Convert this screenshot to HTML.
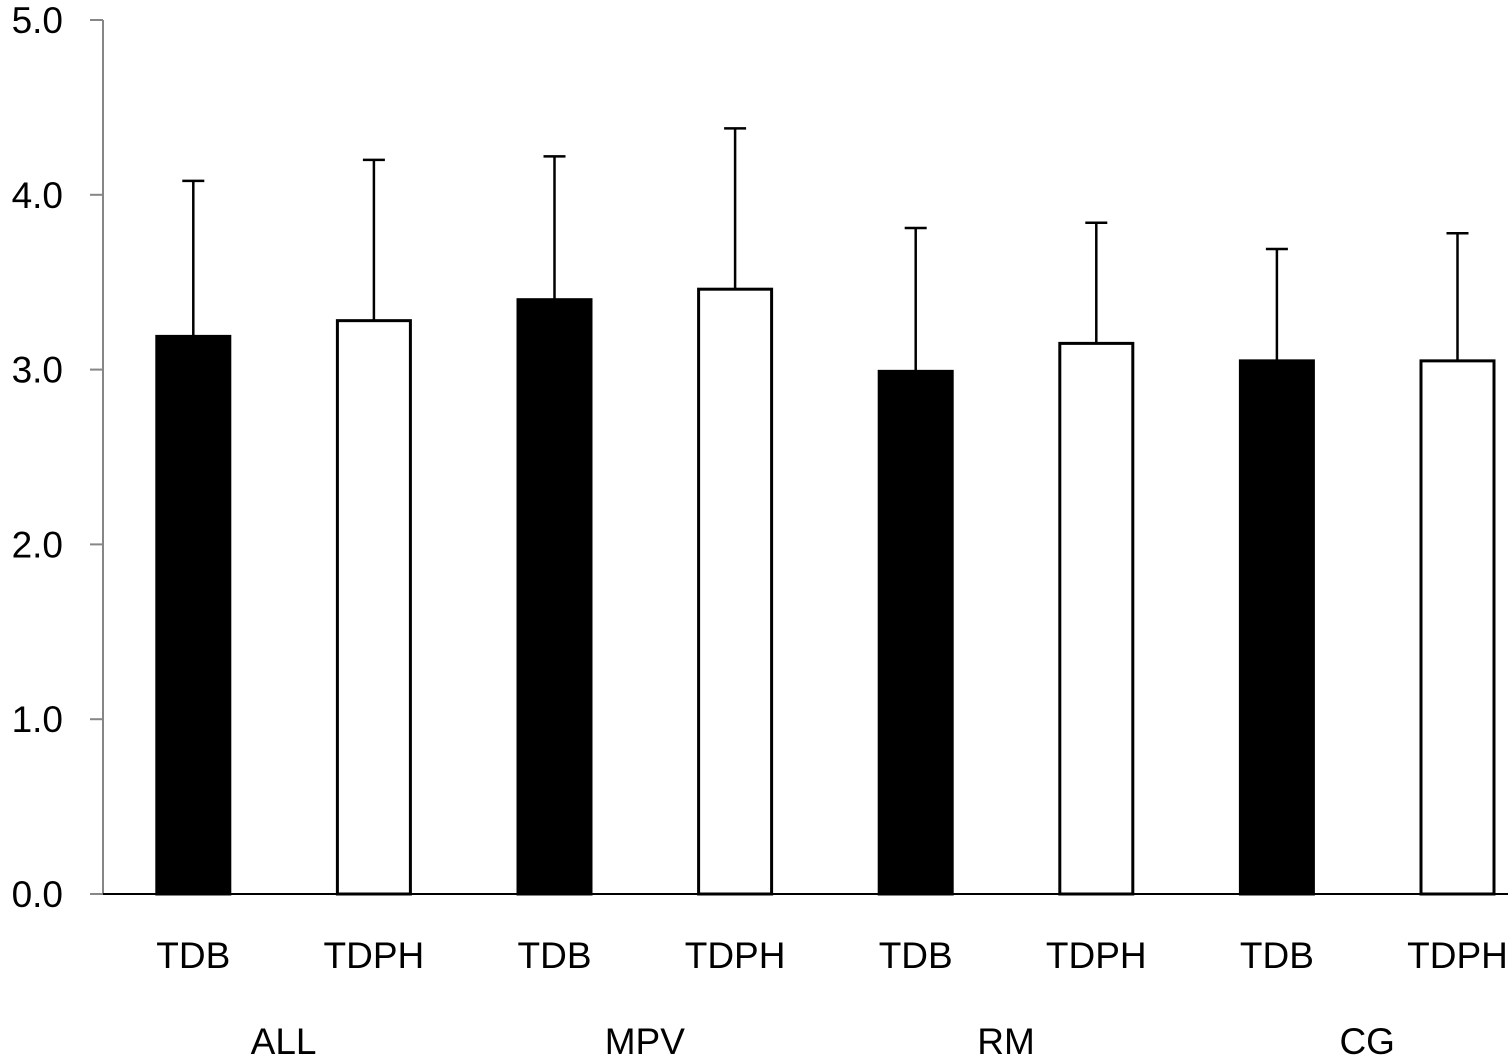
<!DOCTYPE html>
<html><head><meta charset="utf-8"><style>
html,body{margin:0;padding:0;background:#fff;width:1508px;height:1060px;overflow:hidden}
svg{display:block;font-family:"Liberation Sans",Calibri,sans-serif}
</style></head><body>
<svg id="chart" width="1508" height="1060"></svg>
<script>
const groups=["ALL","MPV","RM","CG"];
const seriesNames=["TDB","TDPH"];
const tdbValues=[3.19,3.40,2.99,3.05];
const tdphValues=[3.28,3.46,3.15,3.05];
const tdbErrors=[0.89,0.82,0.82,0.64];
const tdphErrors=[0.92,0.92,0.69,0.73];
const yTicks=[0,1,2,3,4,5];
const yTickLabels=["0.0","1.0","2.0","3.0","4.0","5.0"];

const NS="http://www.w3.org/2000/svg";
const svg=document.getElementById("chart");
const x0=103,slot=180.6,barW=73;
const yBase=894,pxPerUnit=174.8;
function yScale(v){return yBase-v*pxPerUnit;}
function xCenter(i){return x0+slot*(i+0.5);}
function mk(tag,attrs){const e=document.createElementNS(NS,tag);for(const k in attrs)e.setAttribute(k,attrs[k]);svg.appendChild(e);return e;}

let ax=mk("line",{x1:x0,y1:yScale(5),x2:x0,y2:yBase,stroke:"#868686","stroke-width":2});


yTicks.forEach((t,i)=>{
  const tk=mk("line",{x1:90,y1:yScale(t),x2:x0,y2:yScale(t),stroke:"#868686","stroke-width":2});
  
  
  const tl=mk("text",{x:63,y:yScale(t)+13,"text-anchor":"end","font-size":37,fill:"#000"});
  tl.textContent=yTickLabels[i];
  
  
});

const vals=[tdbValues,tdphValues],errs=[tdbErrors,tdphErrors];
groups.forEach((g,gi)=>{
  for(let s=0;s<2;s++){
    const i=gi*2+s,cx=xCenter(i),v=vals[s][gi],e=errs[s][gi];
    const el=mk("line",{x1:cx,y1:yScale(v),x2:cx,y2:yScale(v+e),stroke:"#000","stroke-width":2.5});
    
    
    const cap=mk("line",{x1:cx-11,y1:yScale(v+e),x2:cx+11,y2:yScale(v+e),stroke:"#000","stroke-width":2.5});
    
    
    const r=mk("rect",{x:cx-barW/2,y:yScale(v),width:barW,height:yBase-yScale(v),fill:s===0?"#000":"#fff",stroke:"#000","stroke-width":3});
    
    
    const lb=mk("text",{x:cx,y:968,"text-anchor":"middle","font-size":37,fill:"#000"});
    lb.textContent=seriesNames[s];
    
    
  }
  const gl=mk("text",{x:(xCenter(gi*2)+xCenter(gi*2+1))/2,y:1054,"text-anchor":"middle","font-size":37,fill:"#000"});
  gl.textContent=g;
  
  
});
let xa=mk("line",{x1:x0,y1:yBase,x2:1508,y2:yBase,stroke:"#000","stroke-width":2});


</script>
</body></html>
